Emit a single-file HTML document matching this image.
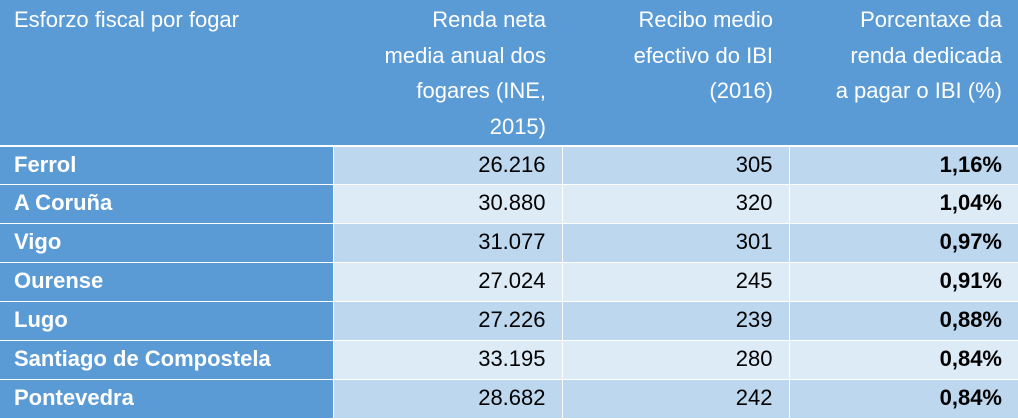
<!DOCTYPE html>
<html><head><meta charset="utf-8"><style>
body{margin:0;width:1018px;height:420px;overflow:hidden;background:#fff;font-family:"Liberation Sans",sans-serif;}
table{border-collapse:collapse;table-layout:fixed;width:1018px;position:absolute;left:0;top:0;}
th{background:#5B9BD5;color:#fff;font-weight:normal;font-size:22px;line-height:35.7px;vertical-align:top;padding:2px 16px 0 14px;height:143px;box-sizing:border-box;border-bottom:2px solid #fff;white-space:nowrap;}
th.l{text-align:left}
th.r{text-align:right}
td{height:39px;box-sizing:border-box;font-size:22px;padding:0 16px 2px 14px;border:1px solid #fff;text-align:right;color:#000;white-space:nowrap;}
td.n{background:#5B9BD5;color:#fff;font-weight:bold;text-align:left;border-left:none}
tr.o td{background:#BDD7EE}
tr.e td{background:#DDEBF7}
tr.o td.n,tr.e td.n{background:#5B9BD5}
td.b{font-weight:bold;border-right:none}
</style></head><body>
<table>
<colgroup><col style="width:333px"><col style="width:229px"><col style="width:227px"><col style="width:229px"></colgroup>
<tr>
<th class="l">Esforzo fiscal por fogar</th>
<th class="r">Renda neta<br>media anual dos<br>fogares (INE,<br>2015)</th>
<th class="r">Recibo medio<br>efectivo do IBI<br>(2016)</th>
<th class="r">Porcentaxe da<br>renda dedicada<br>a pagar o IBI (%)</th>
</tr>
<tr class="o"><td class="n">Ferrol</td><td>26.216</td><td>305</td><td class="b">1,16%</td></tr>
<tr class="e"><td class="n">A Coruña</td><td>30.880</td><td>320</td><td class="b">1,04%</td></tr>
<tr class="o"><td class="n">Vigo</td><td>31.077</td><td>301</td><td class="b">0,97%</td></tr>
<tr class="e"><td class="n">Ourense</td><td>27.024</td><td>245</td><td class="b">0,91%</td></tr>
<tr class="o"><td class="n">Lugo</td><td>27.226</td><td>239</td><td class="b">0,88%</td></tr>
<tr class="e"><td class="n">Santiago de Compostela</td><td>33.195</td><td>280</td><td class="b">0,84%</td></tr>
<tr class="o"><td class="n">Pontevedra</td><td>28.682</td><td>242</td><td class="b">0,84%</td></tr>
</table>
</body></html>
